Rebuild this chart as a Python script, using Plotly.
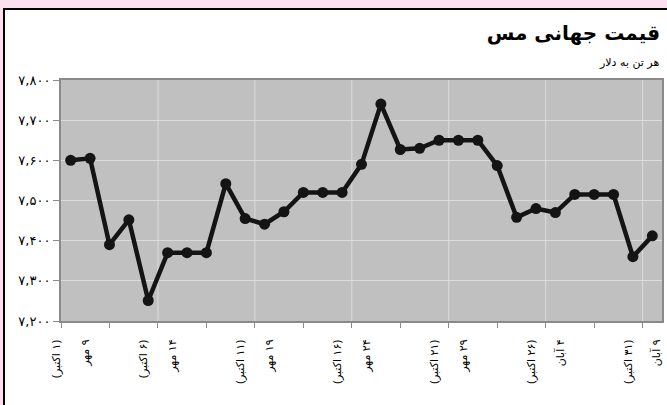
import plotly.graph_objects as go

# daily copper price, 1 Oct .. 31 Oct (9 Mehr .. 9 Aban)
days = list(range(31))
prices = [7600, 7605, 7390, 7452, 7251, 7370, 7370, 7370, 7542, 7455,
          7441, 7472, 7520, 7520, 7520, 7590, 7740, 7627, 7630, 7650,
          7650, 7650, 7587, 7458, 7480, 7470, 7515, 7515, 7515, 7360,
          7412]

label_pos = [0, 4.5, 9.5, 14.5, 19.5, 24.5, 29.5]
label_greg = ["۱ اکتبر", "۶ اکتبر", "۱۱ اکتبر", "۱۶ اکتبر", "۲۱ اکتبر", "۲۶ اکتبر", "۳۱ اکتبر"]
label_pers = ["۹ مهر", "۱۴ مهر", "۱۹ مهر", "۲۴ مهر", "۲۹ مهر", "۴ آبان", "۹ آبان"]
grid_pos = [4.5, 9.5, 14.5, 19.5, 24.5, 29.5]
tick_pos = [-0.5 + 2.5 * i for i in range(13)]

y_vals = [7200, 7300, 7400, 7500, 7600, 7700, 7800]
y_text = ["۷,۲۰۰", "۷,۳۰۰", "۷,۴۰۰", "۷,۵۰۰", "۷,۶۰۰", "۷,۷۰۰", "۷,۸۰۰"]

RLE, PDF = "\u202b", "\u202c"
ticktext = [RLE + "(" + g + ")" + PDF + "<br><br>" + RLE + p + PDF
            for g, p in zip(label_greg, label_pers)]

W, H = 667, 405
ML, MR, MT, MB = 61, 5, 80, 84
PW, PH = W - ML - MR, H - MT - MB


def px(x):
    return (x - ML) / PW


def py(y):
    return (H - MB - y) / PH


font = "DejaVu Sans, sans-serif"

fig = go.Figure(go.Scatter(
    x=days, y=prices, mode="lines+markers",
    line=dict(color="#141414", width=4.5),
    marker=dict(color="#141414", size=11),
    hoverinfo="skip",
))

shapes = [dict(type="line", xref="x", yref="paper", x0=g, x1=g, y0=0, y1=1,
               line=dict(color="#dcdcdc", width=1), layer="below") for g in grid_pos]
pink = "#fde0f0"
shapes += [
    dict(type="rect", xref="paper", yref="paper", x0=px(0), x1=px(W), y0=py(0), y1=py(8),
         fillcolor=pink, line=dict(width=0)),
    dict(type="rect", xref="paper", yref="paper", x0=px(0), x1=px(3), y0=py(H), y1=py(0),
         fillcolor=pink, line=dict(width=0)),
    dict(type="line", xref="paper", yref="paper", x0=px(3), x1=px(W), y0=py(9), y1=py(9),
         line=dict(color="black", width=2)),
    dict(type="line", xref="paper", yref="paper", x0=px(4), x1=px(4), y0=py(H), y1=py(9),
         line=dict(color="black", width=2)),
]

fig.update_layout(
    width=W, height=H,
    margin=dict(l=ML, r=MR, t=MT, b=MB),
    paper_bgcolor="white",
    plot_bgcolor="#c0c0c0",
    showlegend=False,
    font=dict(family=font, size=11, color="black"),
    title=dict(text="<b>قیمت جهانی مس</b>", xref="container", yref="container",
               x=660 / W, xanchor="right", y=1 - 33 / H, yanchor="middle",
               font=dict(family=font, size=20, color="black")),
    shapes=shapes,
    annotations=[dict(text="هر تن به دلار", xref="paper", yref="paper",
                      x=px(661), y=py(62), xanchor="right", yanchor="middle",
                      showarrow=False, font=dict(family=font, size=11))],
    xaxis=dict(
        range=[-0.5, 30.5], tickmode="array", tickvals=label_pos, ticktext=ticktext,
        tickangle=-90, ticks="", showgrid=False, zeroline=False,
        showline=True, linecolor="#8a8a8a", linewidth=2, mirror=True,
        tickfont=dict(size=11), ticklabelstandoff=12, automargin=False,
        minor=dict(tickmode="array", tickvals=tick_pos, ticks="outside",
                   ticklen=5, tickcolor="#8a8a8a", showgrid=False),
    ),
    yaxis=dict(
        range=[7200, 7800], tickmode="array", tickvals=y_vals, ticktext=y_text,
        ticks="outside", ticklen=6, tickcolor="#8a8a8a",
        showgrid=True, gridcolor="#dcdcdc", gridwidth=1, zeroline=False,
        showline=True, linecolor="#8a8a8a", linewidth=2, mirror=True,
        tickfont=dict(size=13), automargin=False,
    ),
)

fig.write_html("out.html", config={"displayModeBar": False},
               post_script="document.body.style.margin='0';")
